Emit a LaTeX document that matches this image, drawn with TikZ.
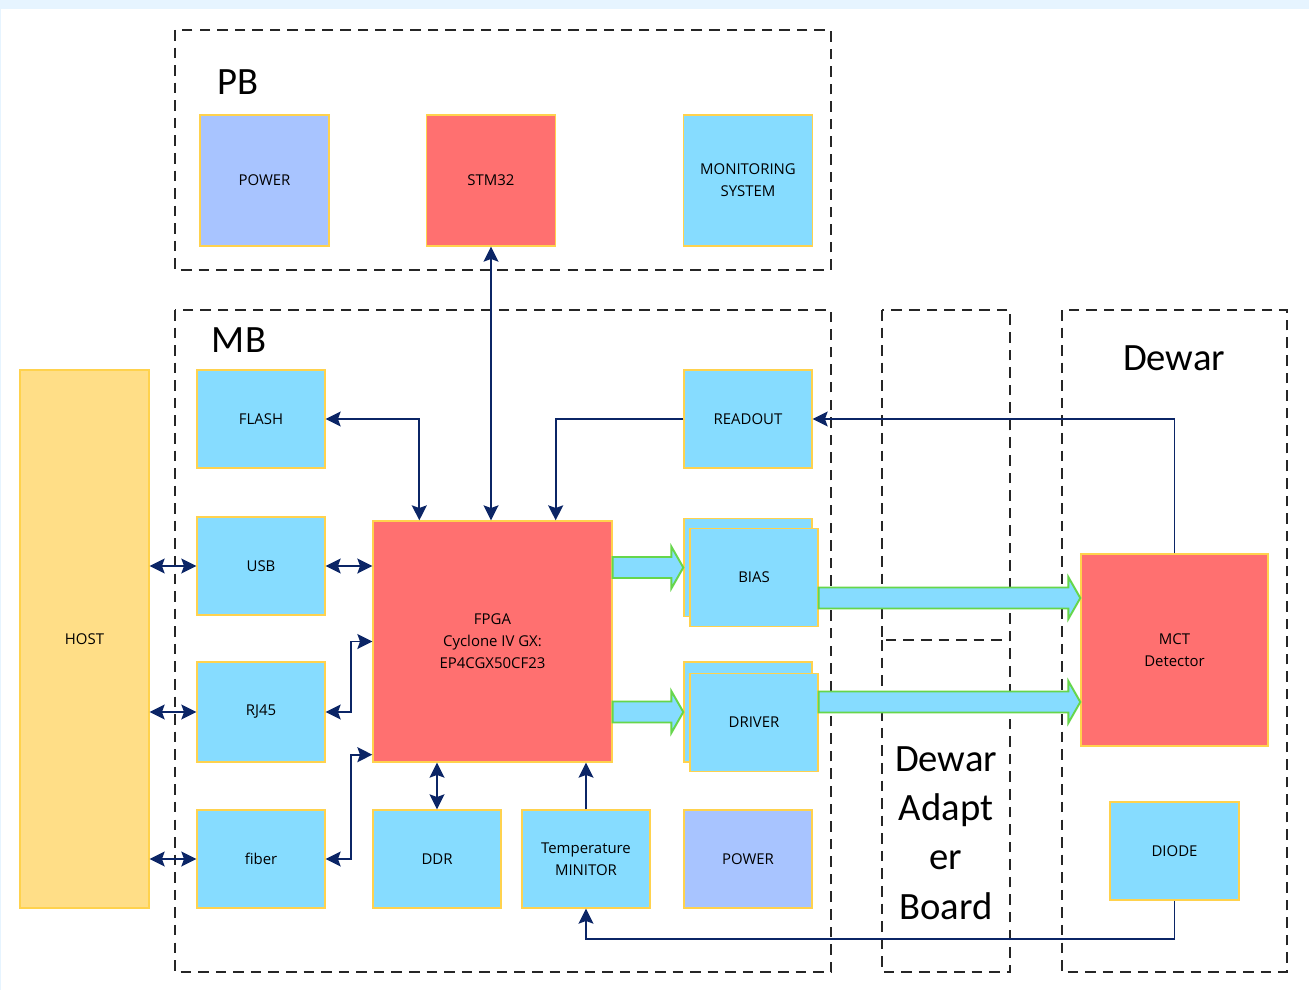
\documentclass[tikz,border=0pt]{standalone}
\usepackage{fontspec}
\setmainfont{Open Sans}
\newfontfamily\hdfont{Carlito}
\usetikzlibrary{arrows.meta, positioning, calc}
\definecolor{boxblue}{HTML}{86DCFF}
\definecolor{boxred}{HTML}{FF7070}
\definecolor{boxlilac}{HTML}{A8C4FF}
\definecolor{boxhost}{HTML}{FFDE87}
\definecolor{boxedge}{HTML}{FFD24D}
\definecolor{linknavy}{HTML}{0B2566}
\definecolor{busgreen}{HTML}{66D64B}
\definecolor{bandblue}{HTML}{E6F4FF}
\tikzset{
    block/.style={draw=boxedge, line width=0.8pt, inner sep=0pt, align=center,
        minimum width=2.56cm, minimum height=1.96cm, font=\fontsize{8.5}{12.5}\selectfont}, % every small box
    tallblock/.style={block, minimum height=2.62cm}, % boxes of the PB row
    group/.style={draw=black!85, line width=1.2pt, dash pattern=on 6pt off 4pt}, % board frames
    title/.style={font=\hdfont\fontsize{22}{28}\selectfont, align=center},
    tip/.style={arrows={-Stealth[length=8.5pt,width=8.5pt,inset=1.5pt]}},
    link/.style={draw=linknavy, line width=1.1pt,
        arrows={Stealth[length=8.5pt,width=8.5pt,inset=1.5pt]-Stealth[length=8.5pt,width=8.5pt,inset=1.5pt]}},
    fatarrow/.style={fill=boxblue, draw=busgreen, line width=1.1pt, line join=miter},
}
% wide bus arrow from #1 to #2 (same height)
\newcommand{\busarrow}[2]{%
  \path[fatarrow] let \p1=(#1), \p2=(#2) in
    (\x1,{\y1+0.21cm}) -- ({\x2-0.24cm},{\y1+0.21cm}) -- ({\x2-0.24cm},{\y1+0.42cm})
    -- (\x2,\y1) -- ({\x2-0.24cm},{\y1-0.42cm}) -- ({\x2-0.24cm},{\y1-0.21cm})
    -- (\x1,{\y1-0.21cm}) -- cycle;}

\begin{document}
\begin{tikzpicture}[x=0.02cm, y=-0.02cm]
\useasboundingbox (0,0) rectangle (1309,990);
\fill[white] (0,0) rectangle (1309,990);
\fill[bandblue] (0,0) rectangle (1309,9);
\draw[bandblue, line width=1pt] (0.5,9) -- (0.5,990);

% board frames
\draw[group] (175,30) rectangle (831,270);
\draw[group] (175,310) rectangle (831,972);
\draw[group] (882,310) rectangle (1010,640);
\draw[group] (882,640) -- (882,972) -- (1010,972) -- (1010,640);
\draw[group] (1062,310) rectangle (1287,972);

\node[title] (pb) at (238,82) {PB};
\node[title] (mb) at (239,340) {MB};
\node[title] (dewar) at (1174,358) {Dewar};
\node[title] (adapter) at (946,833) {Dewar\\Adapt\\er\\Board};

% PB
\node[tallblock, fill=boxlilac, minimum width=2.58cm] (pbpower) at (264.5,180.5) {POWER};
\node[tallblock, fill=boxred, minimum width=2.58cm] (stm32) at (491,180.5) {STM32};
\node[tallblock, fill=boxblue, minimum width=2.58cm] (monitor) at (748,180.5) {MONITORING\\SYSTEM};

% MB
\node[block, fill=boxhost, minimum width=2.58cm, minimum height=10.76cm] (host) at (84.5,639) {HOST};
\node[block, fill=boxblue] (flash) at (261,419) {FLASH};
\node[block, fill=boxblue] (usb) at (261,566) {USB};
\node[block, fill=boxblue, minimum height=2cm] (rj45) at (261,712) {RJ45};
\node[block, fill=boxblue] (fiber) at (261,859) {fiber};
\node[block, fill=boxred, minimum width=4.78cm, minimum height=4.82cm] (fpga) at (492.5,641.5)
    {FPGA\\Cyclone IV GX:\\EP4CGX50CF23};
\node[block, fill=boxblue] (readout) at (748,419) {READOUT};
\node[block, fill=boxblue] (biasb) at (748,567.5) {};
\node[block, fill=boxblue] (bias) at (754,577.5) {BIAS};
\node[block, fill=boxblue, minimum height=2cm] (driverb) at (748,712) {};
\node[block, fill=boxblue] (driver) at (754,722.5) {DRIVER};
\node[block, fill=boxblue] (ddr) at (437,859) {DDR};
\node[block, fill=boxblue] (temp) at (586,859) {Temperature\\MINITOR};
\node[block, fill=boxlilac] (mbpower) at (748,859) {POWER};

% Dewar
\node[block, fill=boxred, minimum width=3.74cm, minimum height=3.84cm] (mct) at (1174.5,650) {MCT\\Detector};
\node[block, fill=boxblue, minimum width=2.58cm] (diode) at (1174.5,851) {DIODE};

% buses
\busarrow{fpga.east |- biasb.west}{biasb.west}
\busarrow{fpga.east |- driverb.west}{driverb.west}
\busarrow{$(bias.east)+(0,20.5)$}{$(bias.east -| mct.west)+(0,20.5)$}
\busarrow{$(driver.east)+(0,-20.5)$}{$(driver.east -| mct.west)+(0,-20.5)$}

% links
\draw[link] (host.east |- usb.west) -- (usb.west);
\draw[link] (host.east |- rj45.west) -- (rj45.west);
\draw[link] (host.east |- fiber.west) -- (fiber.west);
\draw[link] (usb.east) -- (usb.east -| fpga.west);
\draw[link] (rj45.east) -- ++(25,0) |- (fpga.west);
\draw[link] (fiber.east) -- ++(25,0) |- ($(fpga.south west)+(0,-8)$);
\draw[link] (flash.east) -| ($(fpga.north west)+(47,0)$);
\draw[link] (stm32.south) -- (stm32.south |- fpga.north);
\draw[link, tip] (readout.west) -| ($(fpga.north east)+(-57,0)$);
\draw[link, tip] (mct.north) |- (readout.east);
\draw[link] (fpga.south -| ddr.north) -- (ddr.north);
\draw[link, tip] (temp.north) -- (temp.north |- fpga.south);
\draw[link, tip] (diode.south) -- ++(0,38) -| (temp.south);
\end{tikzpicture}
\end{document}
